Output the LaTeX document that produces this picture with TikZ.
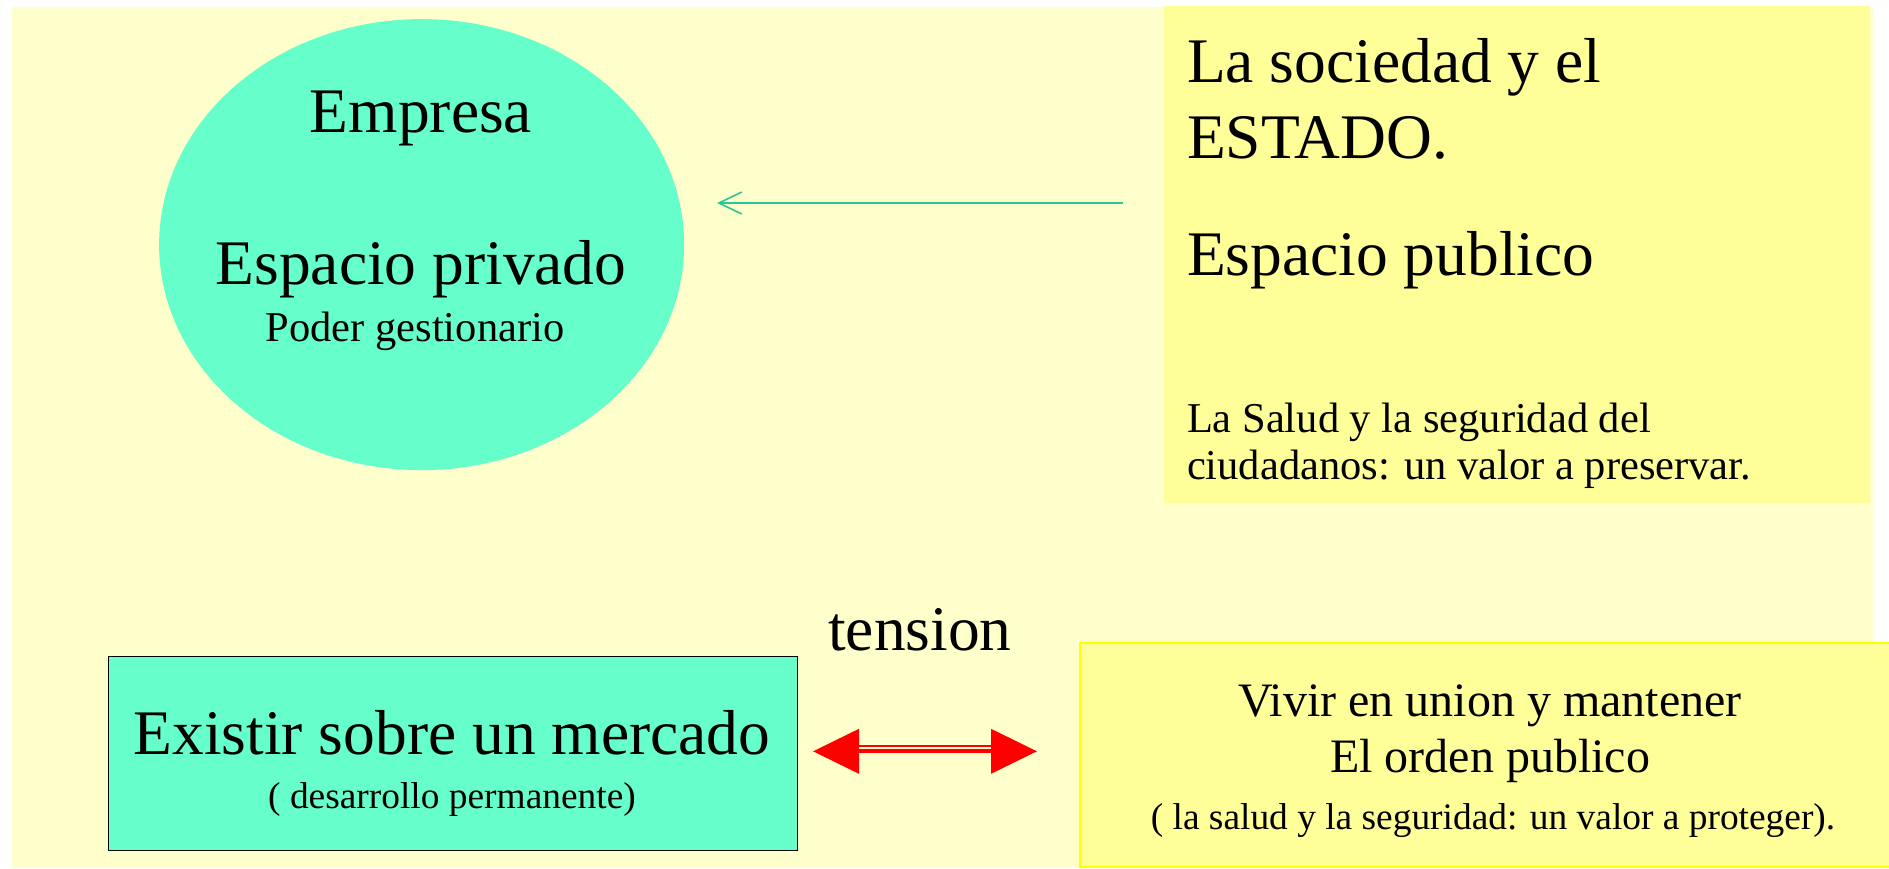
\documentclass[tikz,border=0pt]{standalone}
\usepackage{fontspec}
\setmainfont{Liberation Serif}
\usetikzlibrary{shapes.geometric,arrows.meta}
\definecolor{bgyellow}{HTML}{FFFFCC}
\definecolor{boxyellow}{HTML}{FFFF99}
\definecolor{edgeyellow}{HTML}{FFFF00}
\definecolor{mint}{HTML}{66FFCC}
\definecolor{tealarrow}{HTML}{22CC99}
\newcommand{\bigfont}{\fontsize{63.5}{73}\selectfont}
\newcommand{\midfont}{\fontsize{48}{58}\selectfont}
\newcommand{\smallfont}{\fontsize{42.5}{48}\selectfont}
\newcommand{\tinyfont}{\fontsize{37.4}{44}\selectfont}
\tikzset{
  txt/.style={inner sep=0pt, outer sep=0pt, anchor=base},
  txtl/.style={inner sep=0pt, outer sep=0pt, anchor=base west},
}
\begin{document}
\begin{tikzpicture}[x=1pt,y=-1pt]
\useasboundingbox (0,0) rectangle (1889,868);
% background
\fill[bgyellow] (12,7) rectangle (1874,868);
% upper right box
\node[fill=boxyellow, draw=none, minimum width=706pt, minimum height=497pt, inner sep=0pt, anchor=north west] (pub) at (1164,6) {};
% ellipse
\node[ellipse, fill=mint, draw=none, minimum width=525pt, minimum height=451pt, inner sep=0pt] (emp) at (421.6,244.6) {};
\node[txt] (t1) at (421,132.5) {\bigfont Empresa};
\node[txt] (t2) at (421,284) {\bigfont Espacio privado};
\node[txt] (t3) at (415,341) {\smallfont Poder gestionario};
% upper right texts
\node[txtl] (u1) at (1187,82) {\bigfont La sociedad y el};
\node[txtl] (u2) at (1187,158) {\bigfont ESTADO.};
\node[txtl] (u3) at (1187,275) {\bigfont Espacio publico};
\node[txtl] (u4) at (1187,432.5) {\smallfont La Salud y la seguridad del};
\node[txtl] (u5) at (1187,479.5) {\smallfont ciudadanos: un valor a preservar.};
% teal arrow
\coordinate (aS) at (1123,203);
\coordinate (aE) at (717,203);
\draw[tealarrow, line width=1.6pt, -{Straight Barb[length=23pt,width=22pt]}] (aS) -- (aE);
% tension
\node[txt] (ten) at (920,650) {\bigfont tension};
% lower left box
\node[fill=mint, draw=black, line width=1.6pt, minimum width=689pt, minimum height=194pt, inner sep=0pt] (mer) at (453,753.5) {};
\node[txt] (m1) at (452,754) {\bigfont Existir sobre un mercado};
\node[txt] (m2) at (452,808) {\tinyfont ( desarrollo permanente)};
% lower right box
\node[fill=boxyellow, draw=edgeyellow, line width=2pt, minimum width=830pt, minimum height=224pt, inner sep=0pt, anchor=north west] (ord) at (1079,642) {};
\node[txt] (o1) at (1490,716) {\midfont Vivir en union y mantener};
\node[txt] (o2) at (1490,772) {\midfont El orden publico};
\node[txt] (o3) at (1493,829) {\tinyfont ( la salud y la seguridad: un valor a proteger).};
% red double arrow
\coordinate (rL) at (813,751.3);
\coordinate (rR) at (1037,751.3);
\draw[red, line width=4pt, {Triangle[length=46pt,width=44pt]}-{Triangle[length=46pt,width=44pt]}] (rL) -- (rR);
\draw[red, line width=2.3pt] ([xshift=40pt,yshift=5.1pt]rL) -- ([xshift=-40pt,yshift=5.1pt]rR);
\end{tikzpicture}
\end{document}
